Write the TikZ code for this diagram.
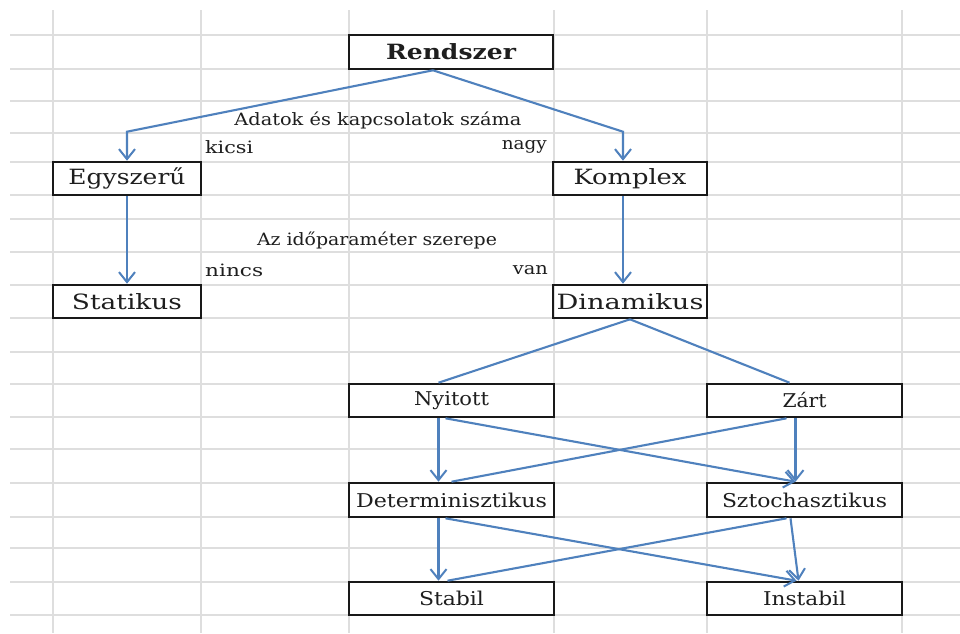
\documentclass[tikz,border=0pt]{standalone}
\usepackage{fontspec}
\setmainfont{DejaVu Serif}
\usetikzlibrary{arrows.meta}
\definecolor{linkblue}{HTML}{4F81BD}
\definecolor{gridgray}{HTML}{DEDEDE}
\definecolor{txt}{HTML}{1E1E1E}
\newcommand{\sw}[2]{\resizebox{#1}{\height}{#2}}
\begin{document}
\begin{tikzpicture}[x=1pt,y=-1pt,
  gridline/.style={draw=gridgray, line width=1.1pt},
  box/.style={draw=black!90, line width=2.6pt, inner sep=0pt, text=txt,
    font=\fontsize{21}{23}\selectfont},
  lab/.style={inner sep=0pt, text=txt, font=\fontsize{17}{19}\selectfont},
  conn/.style={draw=linkblue, line width=2.1pt},
  arr/.style={conn, -{Straight Barb[length=10pt,width=16pt,line width=2pt]}}]
\fill[white] (0,0) rectangle (960,633);
\useasboundingbox (0,0) rectangle (960,633);
% spreadsheet grid
\foreach \yy in {35,69,101,133,162,195,219,252,285,318,352,384,417,449,483,517,548,582,615}
  \draw[gridline] (10,\yy) -- (960,\yy);
\foreach \xx in {53,201,349,554,707,902}
  \draw[gridline] (\xx,10) -- (\xx,633);
% boxes
\node[box, minimum width=204pt, minimum height=34pt, font=\fontsize{21}{23}\selectfont\bfseries] (rend) at (451,52) {\sw{130pt}{Rendszer}};
\node[box, minimum width=148pt, minimum height=33pt] (egy) at (127,178.5) {\sw{117pt}{Egyszerű}};
\node[box, minimum width=154pt, minimum height=33pt] (kom) at (630,178.5) {\sw{113pt}{Komplex}};
\node[box, minimum width=148pt, minimum height=33pt] (stat) at (127,301.5) {\sw{110pt}{Statikus}};
\node[box, minimum width=154pt, minimum height=33pt] (din) at (630,301.5) {\sw{147pt}{Dinamikus}};
\node[box, minimum width=205pt, minimum height=33pt, font=\fontsize{19}{21}\selectfont] (nyi) at (451.5,400.5) {\sw{75pt}{Nyitott}};
\node[box, minimum width=195pt, minimum height=33pt, font=\fontsize{19}{21}\selectfont] (zar) at (804.5,400.5) {\sw{44pt}{Zárt}};
\node[box, minimum width=205pt, minimum height=34pt, font=\fontsize{19}{21}\selectfont] (det) at (451.5,500) {\sw{191pt}{Determinisztikus}};
\node[box, minimum width=195pt, minimum height=34pt, font=\fontsize{19}{21}\selectfont] (szt) at (804.5,500) {\sw{165pt}{Sztochasztikus}};
\node[box, minimum width=205pt, minimum height=33pt, font=\fontsize{19}{21}\selectfont] (stab) at (451.5,598.5) {\sw{65pt}{Stabil}};
\node[box, minimum width=195pt, minimum height=33pt, font=\fontsize{19}{21}\selectfont] (inst) at (804.5,598.5) {\sw{83pt}{Instabil}};
% labels
\node[lab] (l1) at (378,120) {\sw{287pt}{Adatok és kapcsolatok száma}};
\node[lab, anchor=west] (l2) at (205,147) {\sw{48pt}{kicsi}};
\node[lab, anchor=east] (l3) at (547,147) {\sw{45pt}{nagy}};
\node[lab] (l4) at (377,240) {\sw{240pt}{Az időparaméter szerepe}};
\node[lab, anchor=west] (l5) at (205,270) {\sw{58pt}{nincs}};
\node[lab, anchor=east] (l6) at (548,270) {\sw{35pt}{van}};
% connectors
\draw[arr] ([xshift=-18pt]rend.south) -- ([yshift=29pt]egy.north) -- (egy.north);
\draw[arr] ([xshift=-18pt]rend.south) -- ([xshift=-7pt,yshift=29pt]kom.north) -- ([xshift=-7pt]kom.north);
\draw[arr] (egy.south) -- (stat.north);
\draw[arr] ([xshift=-7pt]kom.south) -- ([xshift=-7pt]din.north);
\draw[conn] (din.south) -- ([xshift=-13pt]nyi.north);
\draw[conn] (din.south) -- ([xshift=-15pt]zar.north);
\draw[arr] ([xshift=-13pt]nyi.south) -- ([xshift=-13pt]det.north);
\draw[arr] ([xshift=-6pt]nyi.south) -- ([xshift=-9pt]szt.north);
\draw[conn] ([xshift=-18pt]zar.south) -- (det.north);
\draw[arr] ([xshift=-9pt]zar.south) -- ([xshift=-9pt]szt.north);
\draw[arr] ([xshift=-13pt]det.south) -- ([xshift=-13pt]stab.north);
\draw[arr] ([xshift=-6pt]det.south) -- ([xshift=-8pt]inst.north);
\draw[conn] ([xshift=-18pt]szt.south) -- ([xshift=-4pt]stab.north);
\draw[arr] ([xshift=-14pt]szt.south) -- ([xshift=-6pt]inst.north);
\end{tikzpicture}
\end{document}
